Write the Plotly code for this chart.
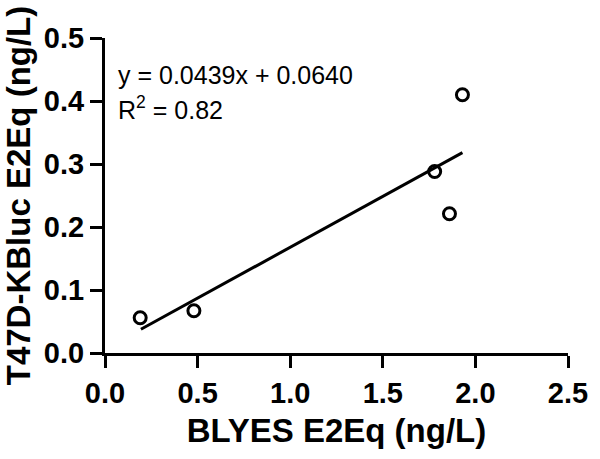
import plotly.graph_objects as go

# BLYES vs T47D-KBluc E2Eq values (ng/L)
blyes = [0.19, 0.48, 1.78, 1.86, 1.93]
t47d = [0.056, 0.067, 0.288, 0.221, 0.410]

# fitted line endpoints as drawn
fit_x = [0.194, 1.93]
fit_y = [0.0376, 0.318]

x_ticks = [0.0, 0.5, 1.0, 1.5, 2.0, 2.5]
y_ticks = [0.0, 0.1, 0.2, 0.3, 0.4, 0.5]

FONT = "Arial, Liberation Sans, sans-serif"

fig = go.Figure()
fig.add_trace(go.Scatter(x=fit_x, y=fit_y, mode="lines",
                         line=dict(color="black", width=3), hoverinfo="skip"))
fig.add_trace(go.Scatter(x=blyes, y=t47d, mode="markers",
                         marker=dict(symbol="circle-open", size=12, color="black",
                                     line=dict(width=3, color="black"))))

axis_common = dict(
    showgrid=False, zeroline=False, showline=True, linecolor="black", linewidth=3,
    ticks="outside", ticklen=12, tickwidth=3, tickcolor="black",
    tickfont=dict(family=FONT, size=29, color="black", weight="bold"),
)

fig.update_xaxes(range=[0, 2.5], tickvals=x_ticks, ticktext=[f"{v:.1f}" for v in x_ticks],
                 title=dict(text="BLYES E2Eq (ng/L)", standoff=12,
                            font=dict(family=FONT, size=33, color="black", weight="bold")),
                 **axis_common)
fig.update_yaxes(range=[0, 0.5], tickvals=y_ticks, ticktext=[f"{v:.1f}" for v in y_ticks],
                 title=dict(text="T47D-KBluc E2Eq (ng/L)", standoff=6,
                            font=dict(family=FONT, size=33, color="black", weight="bold")),
                 **axis_common)

fig.add_annotation(x=0.024, y=0.883, xref="paper", yref="paper", xanchor="left", yanchor="middle",
                   text="y = 0.0439x + 0.0640", showarrow=False,
                   font=dict(family=FONT, size=25, color="black"))
fig.add_annotation(x=0.024, y=0.778, xref="paper", yref="paper", xanchor="left", yanchor="middle",
                   text="R<sup>2</sup> = 0.82", showarrow=False,
                   font=dict(family=FONT, size=25, color="black"))

fig.update_layout(
    width=600, height=459, showlegend=False,
    margin=dict(l=105, r=23, t=38, b=106),
    plot_bgcolor="white", paper_bgcolor="white",
)

fig.write_html("out.html", config={"displayModeBar": False},
               post_script="document.body.style.margin='0';")
